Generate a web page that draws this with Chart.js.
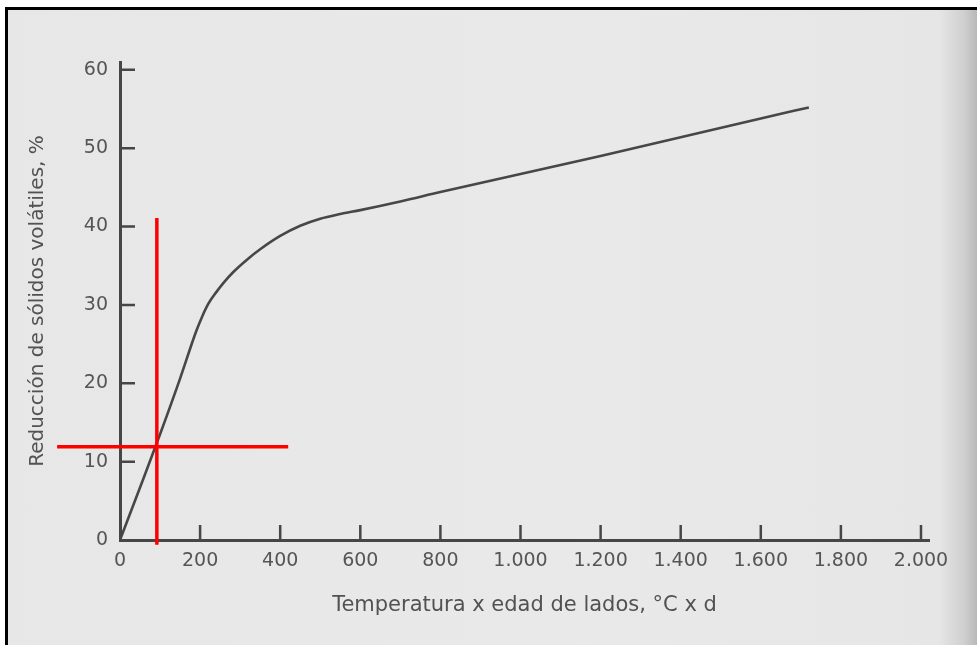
<!DOCTYPE html>
<html>
<head>
<meta charset="utf-8">
<script src="https://cdn.jsdelivr.net/npm/chart.js@4.4.1/dist/chart.umd.min.js"></script>
<style>
  html, body { margin:0; padding:0; background:#ffffff; width:977px; height:645px; overflow:hidden; }
  #paper { position:absolute; left:5px; top:7px; width:972px; height:638px;
    border-left:3px solid #000; border-top:3px solid #000; box-sizing:border-box;
    background: linear-gradient(to right, #e7e7e7 0%, #e9e9e9 60%, #e6e6e6 96%, #d0d0d0 98.6%, #b8b8b8 100%); }
  #wrap { position:absolute; left:0; top:0; width:977px; height:645px; }
</style>
</head>
<body>
<div id="paper"></div>
<div id="wrap"><canvas id="c" width="977" height="645"></canvas></div>
<script>
// Curve: volatile solids reduction (%) vs temperature x sludge age (°C x d)
const xValues = [0, 50, 100, 150, 190, 205, 220, 240, 260, 283, 320, 350, 400, 450, 500, 550, 600, 700, 800, 1000, 1200, 1400, 1600, 1720];
const yValues = [0, 6.7, 13.5, 20.6, 26.6, 28.5, 30.1, 31.6, 32.9, 34.2, 35.9, 37.1, 38.8, 40.1, 41.0, 41.6, 42.1, 43.2, 44.4, 46.7, 49.0, 51.4, 53.8, 55.2];
// Red reading guide lines
const guideVX = [92, 92];
const guideVY = [-0.6, 41.1];
const guideHX = [-157, 420];
const guideHY = [11.9, 11.9];
// Tick labels
const xTickValues = [0, 200, 400, 600, 800, 1000, 1200, 1400, 1600, 1800, 2000];
const xTickLabels = ['0', '200', '400', '600', '800', '1.000', '1.200', '1.400', '1.600', '1.800', '2.000'];
const yTickValues = [0, 10, 20, 30, 40, 50, 60];
const xTitle = 'Temperatura x edad de lados, °C x d';
const yTitle = 'Reducción de sólidos volátiles, %';

const toPts = (xs, ys) => xs.map((x, i) => ({x: x, y: ys[i]}));

const innerTicks = {
  id: 'innerTicks',
  afterDatasetsDraw(chart) {
    const ctx = chart.ctx;
    const xs = chart.scales.x, ys = chart.scales.y;
    ctx.save();
    ctx.strokeStyle = '#464646';
    ctx.lineWidth = 2.5;
    ctx.beginPath();
    xs.ticks.forEach(t => {
      if (t.value === 0) return;
      const px = xs.getPixelForValue(t.value);
      ctx.moveTo(px, xs.top); ctx.lineTo(px, xs.top - 15);
    });
    ys.ticks.forEach(t => {
      if (t.value === 0) return;
      const py = ys.getPixelForValue(t.value);
      ctx.moveTo(ys.right, py); ctx.lineTo(ys.right + 15, py);
    });
    ctx.stroke();
    ctx.restore();
  }
};

new Chart(document.getElementById('c'), {
  type: 'scatter',
  data: {
    datasets: [
      { data: toPts(xValues, yValues), showLine: true, borderColor: '#474747', borderWidth: 2.6,
        pointRadius: 0, cubicInterpolationMode: 'monotone', fill: false, order: 2 },
      { data: toPts(guideVX, guideVY), showLine: true, borderColor: '#ff0000', borderWidth: 3.5,
        pointRadius: 0, clip: false, order: 1 },
      { data: toPts(guideHX, guideHY), showLine: true, borderColor: '#ff0000', borderWidth: 3.5,
        pointRadius: 0, clip: false, order: 1 }
    ]
  },
  options: {
    responsive: false,
    animation: false,
    layout: { padding: { left: 0, top: 62, right: 48, bottom: 0 } },
    plugins: { legend: { display: false }, tooltip: { enabled: false } },
    scales: {
      x: {
        type: 'linear', min: 0, max: 2020,
        afterBuildTicks: s => { s.ticks = xTickValues.map(v => ({value: v})); },
        afterFit: s => { s.height = 105; },
        grid: { display: false, drawTicks: false },
        border: { display: true, color: '#464646', width: 3 },
        ticks: { padding: 10, color: '#555555', maxRotation: 0, autoSkip: false,
          font: { family: 'DejaVu Sans', size: 19 },
          callback: (v) => { const i = xTickValues.indexOf(v); return i >= 0 ? xTickLabels[i] : ''; } },
        title: { display: true, text: xTitle, color: '#525252',
          font: { family: 'DejaVu Sans', size: 21 }, padding: { top: 0, bottom: 27 } }
      },
      y: {
        type: 'linear', min: 0, max: 61,
        afterBuildTicks: s => { s.ticks = yTickValues.map(v => ({value: v})); },
        afterFit: s => { s.width = 120; },
        grid: { display: false, drawTicks: false },
        border: { display: true, color: '#464646', width: 3 },
        ticks: { padding: 12, color: '#555555', font: { family: 'DejaVu Sans', size: 19 } },
        title: { display: true, text: yTitle, color: '#525252',
          font: { family: 'DejaVu Sans', size: 20 }, padding: { top: 26, bottom: 0 } }
      }
    }
  },
  plugins: [innerTicks]
});
</script>
</body>
</html>
